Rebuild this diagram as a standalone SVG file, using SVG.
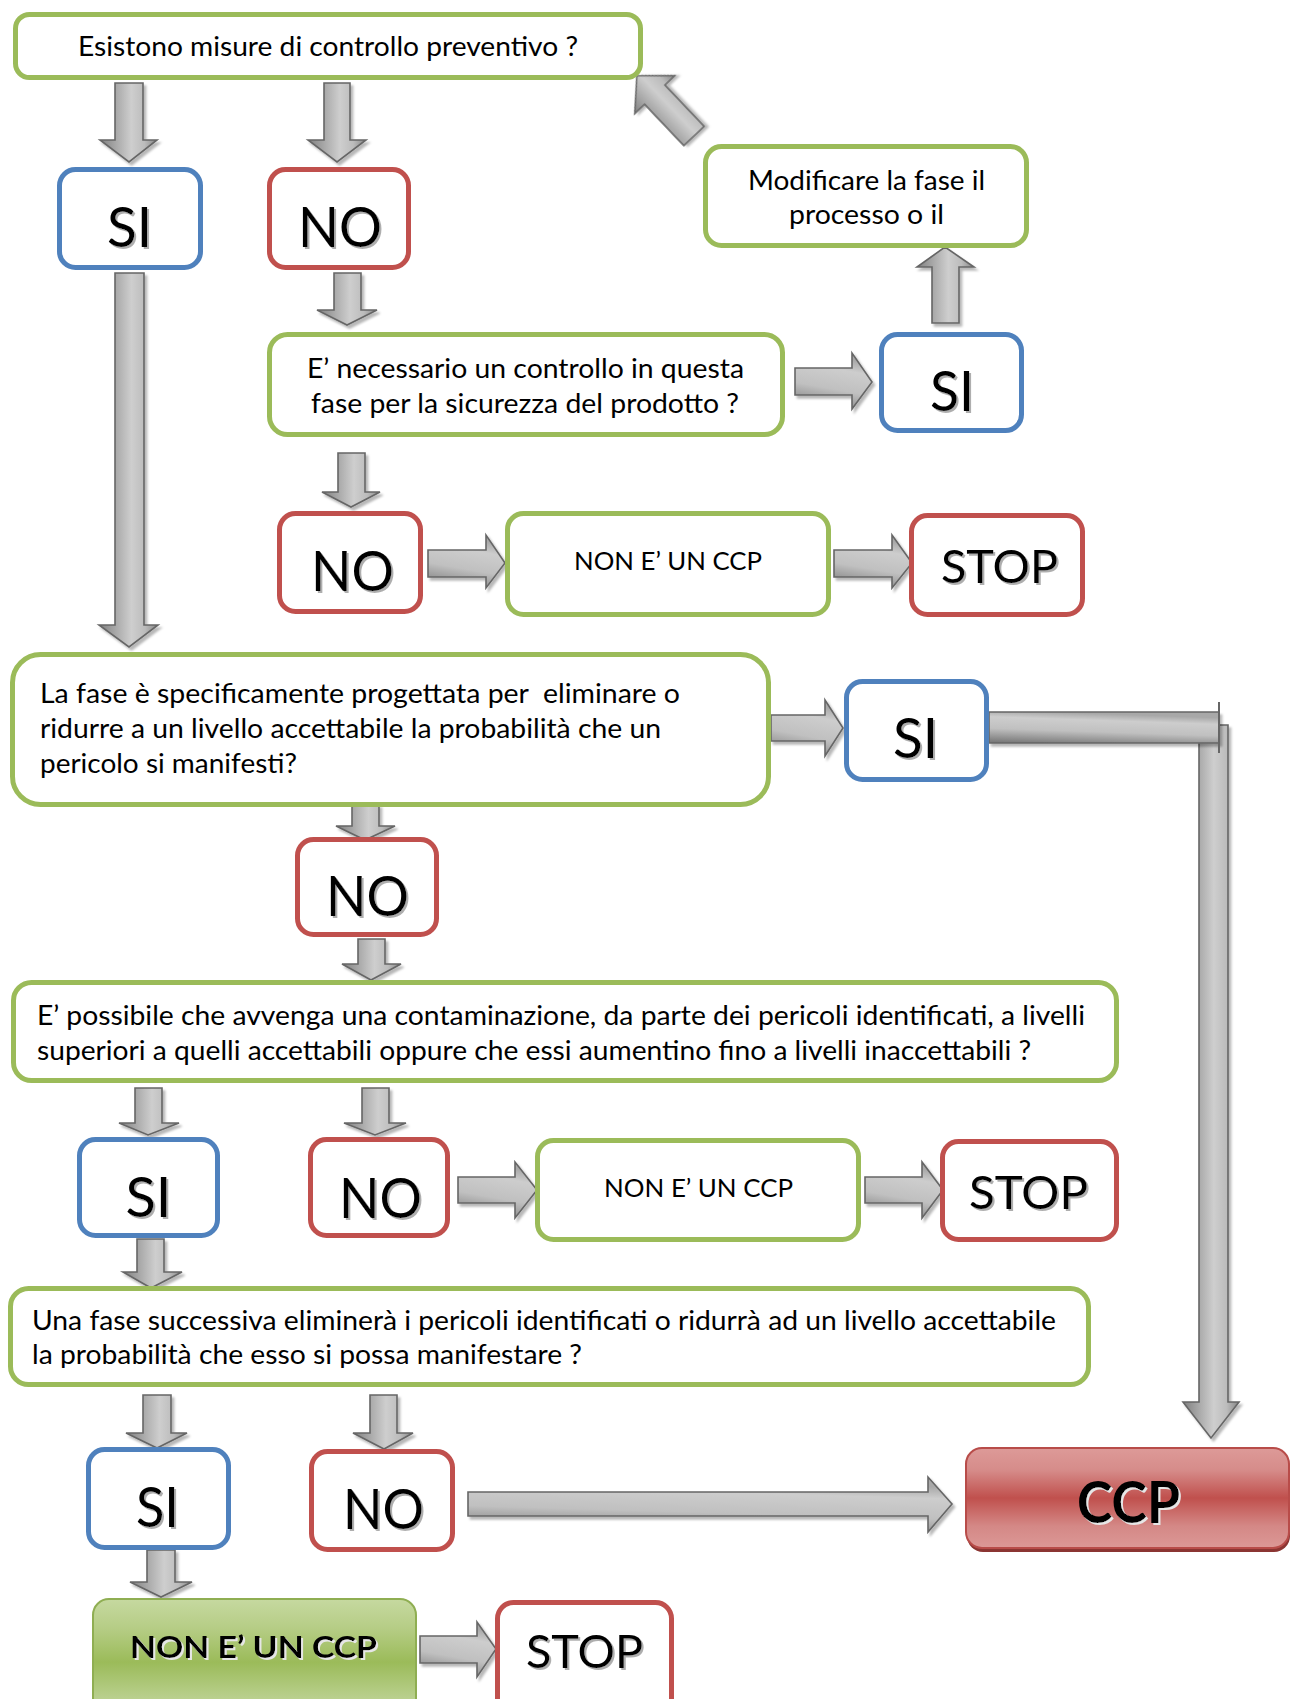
<svg xmlns="http://www.w3.org/2000/svg" width="1292" height="1699" viewBox="0 0 1292 1699">
<defs>
<style>
.g{fill:#fff;stroke:#9BBB59;stroke-width:5}
.b{fill:#fff;stroke:#4F81BD;stroke-width:5}
.r{fill:#fff;stroke:#C0504D;stroke-width:5}
.t{font-family:Lato,"Liberation Sans",sans-serif;font-size:26px;fill:#000}
.sm{font-size:25px}
.big{font-size:57px;text-anchor:middle;filter:url(#ts)}
.stop{font-size:47px;text-anchor:middle;filter:url(#ts)}
.bold{font-weight:bold;text-anchor:middle;filter:url(#tsl)}
.ccp{font-size:58px}
.nccp{font-size:30px}
.av{fill:url(#gv);stroke:#666;stroke-width:1.6;filter:url(#sh)}
.ah{fill:url(#gh);stroke:#666;stroke-width:1.6;filter:url(#sh)}
</style>
<linearGradient id="gv" x1="0" y1="0" x2="1" y2="0">
<stop offset="0" stop-color="#808080"/><stop offset="0.3" stop-color="#ababab"/><stop offset="0.55" stop-color="#cecece"/><stop offset="0.78" stop-color="#bcbcbc"/><stop offset="1" stop-color="#858585"/>
</linearGradient>
<linearGradient id="gh" x1="0" y1="1" x2="0.25" y2="0">
<stop offset="0" stop-color="#737373"/><stop offset="0.45" stop-color="#c0c0c0"/><stop offset="0.8" stop-color="#cdcdcd"/><stop offset="1" stop-color="#a8a8a8"/>
</linearGradient>
<linearGradient id="gccp" x1="0" y1="0" x2="0" y2="1">
<stop offset="0" stop-color="#dd9a98"/><stop offset="0.22" stop-color="#d68c8a"/><stop offset="0.5" stop-color="#c0504d"/><stop offset="0.78" stop-color="#d48886"/><stop offset="1" stop-color="#dc9896"/>
</linearGradient>
<linearGradient id="ggr" x1="0" y1="0" x2="0" y2="1">
<stop offset="0" stop-color="#c6d9a0"/><stop offset="0.25" stop-color="#b6cd86"/><stop offset="0.55" stop-color="#9bbb59"/><stop offset="0.85" stop-color="#b8cf8c"/><stop offset="1" stop-color="#c6d9a0"/>
</linearGradient>
<filter id="sh" x="-20%" y="-20%" width="150%" height="150%">
<feDropShadow dx="2.5" dy="3" stdDeviation="1.2" flood-color="#000" flood-opacity="0.28"/>
</filter>
<filter id="ts" x="-10%" y="-10%" width="130%" height="130%">
<feDropShadow dx="2" dy="2" stdDeviation="0.6" flood-color="#9a9a9a" flood-opacity="0.8"/>
</filter>
<filter id="tsl" x="-10%" y="-10%" width="130%" height="130%">
<feDropShadow dx="2" dy="2" stdDeviation="0.6" flood-color="#e6e6e6" flood-opacity="1"/>
</filter>
<clipPath id="clip5"><rect x="0" y="1280" width="1100" height="88"/></clipPath>
</defs>
<rect width="1292" height="1699" fill="#fff"/>

<g id="connectors">
<path class="av" d="M115,83H143V140H157L129,162L100,140H115Z"/>
<path class="av" d="M324,83H350V140H366L337,162L308,140H324Z"/>
<path class="av" d="M115,273H144V625H158L129,647L99,625H115Z"/>
<path class="av" d="M334,273H361V310H377L347,325L317,310H334Z"/>
<path class="av" d="M338,453H365V492H380L351,507L322,492H338Z"/>
<path class="ah" d="M428,550H486V535L505,563L486,588V577H428Z"/>
<path class="ah" d="M834,550H892V535L912,563L892,588V577H834Z"/>
<path class="ah" d="M795,368H852V353L872,382L852,409V395H795Z"/>
<path class="av" d="M932,323V267H917L945,247L974,267H959V323Z"/>
<path class="av" transform="translate(694,136) rotate(-43.5)" d="M-14,0V-57H-27.5L0,-83L27.5,-57H14V0Z"/>
<path class="ah" d="M771,715H825V700L843,728L825,756V741H771Z"/>
<path class="av" d="M1199,725H1228V1402H1239L1211,1438L1183,1402H1199Z"/>
<path class="ah" d="M989,712H1219V743H989Z"/>
<line x1="1219" y1="702" x2="1219" y2="753" stroke="#666" stroke-width="2"/>
<path class="av" d="M352,805H379V826H395L365,840L336,826H352Z"/>
<path class="av" d="M358,939H385V964H401L371,980L342,964H358Z"/>
<path class="av" d="M135,1088H162V1123H179L148,1135L119,1123H135Z"/>
<path class="av" d="M362,1088H389V1123H406L375,1135L344,1123H362Z"/>
<path class="ah" d="M458,1177H515V1162L537,1190L515,1218V1203H458Z"/>
<path class="ah" d="M865,1177H922V1162L943,1190L922,1218V1203H865Z"/>
<path class="av" d="M137,1239H164V1272H182L151,1288L123,1272H137Z"/>
<path class="av" d="M143,1395H171V1433H187L157,1448L126,1433H143Z"/>
<path class="av" d="M370,1395H397V1433H413L384,1449L353,1433H370Z"/>
<path class="ah" d="M468,1492H928V1477L952,1504L928,1532V1516H468Z"/>
<path class="av" d="M147,1550H175V1582H192L161,1597L130,1582H147Z"/>
<path class="ah" d="M420,1636H477V1622L496,1649L477,1677V1663H420Z"/>
</g>

<g id="n-top">
<rect class="g" x="15.5" y="14.5" width="625" height="63" rx="14"/>
<text class="t" x="78" y="56" textLength="500" lengthAdjust="spacingAndGlyphs">Esistono misure di controllo preventivo ?</text>
</g>
<g id="n-si1">
<rect class="b" x="59.5" y="169.5" width="141" height="98" rx="16"/>
<text class="t big" x="129.5" y="247" textLength="45" lengthAdjust="spacingAndGlyphs">SI</text>
</g>
<g id="n-no1">
<rect class="r" x="269.5" y="169.5" width="139" height="98" rx="16"/>
<text class="t big" x="340" y="247" textLength="84" lengthAdjust="spacingAndGlyphs">NO</text>
</g>
<g id="n-modificare">
<rect class="g" x="705.5" y="146.5" width="321" height="99" rx="16"/>
<text class="t" x="748" y="190" textLength="237" lengthAdjust="spacingAndGlyphs">Modificare la fase il</text>
<text class="t" x="789" y="224" textLength="155" lengthAdjust="spacingAndGlyphs">processo o il</text>
</g>
<g id="n-q2">
<rect class="g" x="269.5" y="334.5" width="513" height="100" rx="18"/>
<text class="t" x="307" y="378" textLength="437" lengthAdjust="spacingAndGlyphs">E’ necessario un controllo in questa</text>
<text class="t" x="311" y="413" textLength="428" lengthAdjust="spacingAndGlyphs">fase per la sicurezza del prodotto ?</text>
</g>
<g id="n-si2">
<rect class="b" x="881.5" y="334.5" width="140" height="96" rx="16"/>
<text class="t big" x="952" y="411" textLength="44" lengthAdjust="spacingAndGlyphs">SI</text>
</g>
<g id="n-no2">
<rect class="r" x="279.5" y="513.5" width="141" height="98" rx="16"/>
<text class="t big" x="352.5" y="591" textLength="83" lengthAdjust="spacingAndGlyphs">NO</text>
</g>
<g id="n-nonccp1">
<rect class="g" x="507.5" y="513.5" width="321" height="101" rx="16"/>
<text class="t sm" x="574" y="570" textLength="188" lengthAdjust="spacingAndGlyphs">NON E’ UN CCP</text>
</g>
<g id="n-stop1">
<rect class="r" x="911.5" y="515.5" width="171" height="99" rx="16"/>
<text class="t stop" x="999.5" y="583" textLength="117" lengthAdjust="spacingAndGlyphs">STOP</text>
</g>
<g id="n-q3">
<rect class="g" x="12.5" y="654.5" width="756" height="150" rx="28"/>
<text class="t" x="40" y="703" textLength="640" lengthAdjust="spacingAndGlyphs" xml:space="preserve">La fase è specificamente progettata per  eliminare o</text>
<text class="t" x="40" y="738" textLength="621" lengthAdjust="spacingAndGlyphs">ridurre a un livello accettabile la probabilità che un</text>
<text class="t" x="40" y="773" textLength="257" lengthAdjust="spacingAndGlyphs">pericolo si manifesti?</text>
</g>
<g id="n-si3">
<rect class="b" x="846.5" y="681.5" width="140" height="98" rx="16"/>
<text class="t big" x="915.5" y="758" textLength="45" lengthAdjust="spacingAndGlyphs">SI</text>
</g>
<g id="n-no3">
<rect class="r" x="297.5" y="839.5" width="139" height="95" rx="16"/>
<text class="t big" x="367.5" y="916" textLength="83" lengthAdjust="spacingAndGlyphs">NO</text>
</g>
<g id="n-q4">
<rect class="g" x="13.5" y="982.5" width="1103" height="98" rx="18"/>
<text class="t" x="37" y="1025" textLength="1048" lengthAdjust="spacingAndGlyphs">E’ possibile che avvenga una contaminazione, da parte dei pericoli identificati, a livelli</text>
<text class="t" x="37" y="1060" textLength="994" lengthAdjust="spacingAndGlyphs">superiori a quelli accettabili oppure che essi aumentino fino a livelli inaccettabili ?</text>
</g>
<g id="n-si4">
<rect class="b" x="79.5" y="1139.5" width="138" height="96" rx="16"/>
<text class="t big" x="148.5" y="1217" textLength="46" lengthAdjust="spacingAndGlyphs">SI</text>
</g>
<g id="n-no4">
<rect class="r" x="310.5" y="1139.5" width="137" height="96" rx="16"/>
<text class="t big" x="380.5" y="1218" textLength="83" lengthAdjust="spacingAndGlyphs">NO</text>
</g>
<g id="n-nonccp2">
<rect class="g" x="537.5" y="1140.5" width="321" height="99" rx="16"/>
<text class="t sm" x="604" y="1197" textLength="189" lengthAdjust="spacingAndGlyphs">NON E’ UN CCP</text>
</g>
<g id="n-stop2">
<rect class="r" x="942.5" y="1141.5" width="174" height="98" rx="16"/>
<text class="t stop" x="1028.5" y="1209" textLength="119" lengthAdjust="spacingAndGlyphs">STOP</text>
</g>
<g id="n-q5">
<rect class="g" x="10.5" y="1288.5" width="1078" height="96" rx="18"/>
<text class="t" x="32" y="1330" textLength="1024" lengthAdjust="spacingAndGlyphs">Una fase successiva eliminerà i pericoli identificati o ridurrà ad un livello accettabile</text>
<text class="t" x="32" y="1364" textLength="550" lengthAdjust="spacingAndGlyphs" clip-path="url(#clip5)">la probabilità che esso si possa manifestare ?</text>
</g>
<g id="n-si5">
<rect class="b" x="88.5" y="1449.5" width="140" height="98" rx="16"/>
<text class="t big" x="157.5" y="1527" textLength="43" lengthAdjust="spacingAndGlyphs">SI</text>
</g>
<g id="n-no5">
<rect class="r" x="311.5" y="1451.5" width="141" height="98" rx="16"/>
<text class="t big" x="383.5" y="1529" textLength="81" lengthAdjust="spacingAndGlyphs">NO</text>
</g>
<g id="n-ccp">
<rect x="967" y="1452" width="323" height="100" rx="16" fill="#8b3532"/>
<rect x="966" y="1448" width="323" height="100" rx="16" fill="url(#gccp)" stroke="#b84c49" stroke-width="2"/>
<text class="t bold ccp" x="1128.5" y="1523" textLength="103" lengthAdjust="spacingAndGlyphs">CCP</text>
</g>
<g id="n-nonccp3">
<rect x="93" y="1599" width="323" height="115" rx="16" fill="url(#ggr)" stroke="#8fae52" stroke-width="2"/>
<text class="t bold nccp" x="253.5" y="1658" textLength="247" lengthAdjust="spacingAndGlyphs">NON E’ UN CCP</text>
</g>
<g id="n-stop3">
<rect class="r" x="497.5" y="1602.5" width="174" height="115" rx="16"/>
<text class="t stop" x="584.5" y="1668" textLength="117" lengthAdjust="spacingAndGlyphs">STOP</text>
</g>
</svg>
